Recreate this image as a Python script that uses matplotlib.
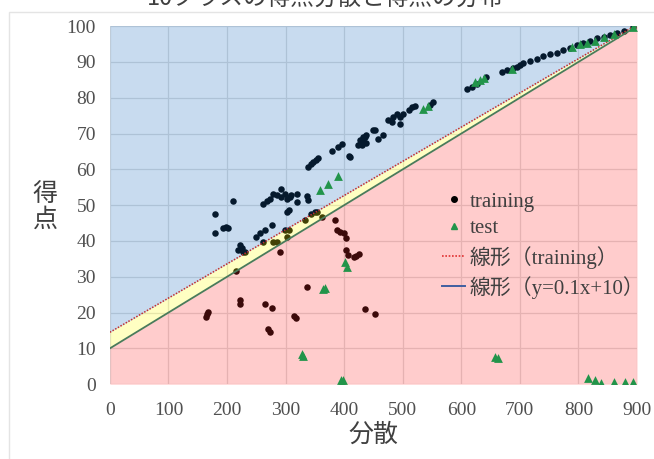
import numpy as np
import matplotlib.pyplot as plt
from matplotlib.lines import Line2D
from matplotlib.patches import Rectangle

# training points (分散, 得点)
train_x = [180, 210, 180, 193, 199, 201, 222, 225, 219, 228, 231, 216,
           250, 256, 265, 276, 262, 268, 273, 279, 285, 293, 293, 299,
           302, 307, 310, 319, 320, 336, 339, 302, 305, 279, 285, 262,
           299, 305, 302, 290, 333, 344, 350, 353, 362, 384, 387, 393,
           399, 404, 404, 407, 416, 421, 426,
           336, 165, 164, 168, 222, 222, 265, 276, 270, 273, 315, 318,
           435, 453,
           339, 343, 347, 352, 356, 379, 389, 397, 408, 427, 433, 438,
           438, 430, 453, 410, 427, 435, 433, 424, 450, 458, 467, 475,
           484, 481, 490, 495, 495, 501, 510, 515, 521, 552, 546,
           609, 618, 626, 643, 669, 678, 689, 695, 700, 706, 717, 729,
           740, 751, 763, 774, 786, 797, 808, 820, 831, 843, 854, 866,
           877, 894]
train_y = [47.4, 51.2, 42.1, 43.6, 43.9, 43.6, 38.8, 37.9, 37.4, 37.0, 37.0, 31.7,
           41.2, 42.1, 43.0, 44.4, 50.4, 51.2, 51.8, 53.2, 52.8, 54.4, 52.3, 53.2,
           51.8, 52.3, 52.8, 53.2, 50.9, 52.5, 51.4, 48.1, 48.6, 39.7, 39.7, 39.7,
           43.0, 43.0, 41.2, 37.0, 45.8, 47.6, 48.1, 48.1, 46.7, 45.8, 43.0, 42.5,
           42.1, 40.7, 37.6, 36.0, 35.4, 35.8, 36.3,
           27.2, 19.7, 18.8, 20.2, 23.6, 22.3, 22.5, 21.4, 15.5, 14.6, 19.0, 18.6,
           21.1, 19.7,
           60.7, 61.6, 62.1, 62.6, 63.1, 65.1, 66.3, 67.0, 63.7, 68.2, 69.1, 69.7,
           67.4, 66.8, 71.0, 63.5, 67.2, 69.1, 68.2, 66.8, 70.9, 68.6, 69.6, 73.7,
           74.7, 73.3, 75.6, 74.7, 72.8, 75.6, 76.5, 77.3, 77.7, 78.9, 78.0,
           82.5, 83.0, 83.8, 85.7, 87.2, 87.7, 88.2, 88.6, 89.1, 89.6, 90.3, 90.9,
           91.6, 92.2, 92.6, 93.3, 94.0, 94.7, 95.2, 95.9, 96.6, 97.1, 97.5, 98.1,
           98.7, 99.8]

# test points
test_x = [359, 373, 389, 401, 405, 364, 367, 330, 328, 394, 398,
          658, 663, 817, 828, 838, 860, 880, 894,
          535, 544, 624, 632, 638, 686, 789, 803, 814, 828, 843, 860, 894]
test_y = [54.2, 56.0, 58.1, 34.2, 32.6, 26.5, 27.0, 7.8, 8.3, 1.3, 1.1,
          7.6, 7.2, 1.6, 1.1, 0.2, 0.6, 0.6, 0.5,
          77.0, 77.7, 84.4, 84.9, 85.4, 87.9, 94.2, 95.0, 95.2, 95.9, 96.9, 97.8, 99.8]

# trend lines
fit_slope, fit_icpt = 0.0955, 14.5
ref_slope, ref_icpt = 0.1, 10

title = "10クラスの得点分散と得点の分布"
x_ticks = [0, 100, 200, 300, 400, 500, 600, 700, 800, 900]
y_ticks = [0, 10, 20, 30, 40, 50, 60, 70, 80, 90, 100]

serif = ['Liberation Serif', 'Noto Sans CJK JP']
cjk = ['Noto Sans CJK JP', 'DejaVu Sans']

fig = plt.figure(figsize=(6.54, 4.59), dpi=100)
ax = fig.add_axes([0.168, 0.163, 0.806, 0.780])

# faint chart-area border
fig.patches.append(Rectangle((9 / 654, -0.1), 1.2, 1 - 12 / 459 + 0.1,
                             transform=fig.transFigure, fill=False,
                             edgecolor='#e4e4e4', lw=1))

ax.set_xlim(0, 900)
ax.set_ylim(0, 100)

ax.scatter(train_x, train_y, s=22, color='black', zorder=1, linewidths=0)

xs = np.linspace(0, 900, 50)
upper = fit_slope * xs + fit_icpt
lower = ref_slope * xs + ref_icpt
ax.fill_between(xs, upper, 101, color='#196cc0', alpha=0.24, lw=0, zorder=2)
ax.fill_between(xs, lower, upper, color='#ffff14', alpha=0.26, lw=0, zorder=2)
ax.fill_between(xs, 0, lower, color='#ff2a2a', alpha=0.24, lw=0, zorder=2)

ax.plot(xs, upper, color='#c03030', lw=1.1, ls=(0, (1, 1)), zorder=3)
ax.plot(xs, lower, color='#4a7a5c', lw=1.3, zorder=3)

ax.scatter(test_x, test_y, s=40, marker='^', color='#22944a', zorder=4,
           linewidths=0)

ax.set_xticks(x_ticks)
ax.set_yticks(y_ticks)
ax.grid(True, color='#dedede', lw=0.9, zorder=0)
ax.set_axisbelow(True)
for s in ax.spines.values():
    s.set_visible(False)
ax.tick_params(length=0, labelsize=14, labelcolor='#505050')
ax.tick_params(axis='x', pad=13)
ax.tick_params(axis='y', pad=10)
for lab in ax.get_xticklabels() + ax.get_yticklabels():
    lab.set_family(serif)

ax.set_xlabel('分散', family=cjk, fontsize=18, color='#404040', labelpad=2)
fig.text(45 / 654, 1 - 207 / 459, '得\n点', family=cjk, fontsize=18,
         color='#404040', ha='center', va='center', linespacing=1.0)

fig.text(0.497, 1 - 10 / 459, title, family=cjk, fontsize=17,
         color='#404040', ha='center', va='bottom')

handles = [
    Line2D([], [], ls='none', marker='o', color='black', markersize=4),
    Line2D([], [], ls='none', marker='^', color='#22944a', markersize=5),
    Line2D([], [], color='#e03030', lw=1.2, ls=(0, (1, 1))),
    Line2D([], [], color='#3f5fa0', lw=1.4),
]
labels = ['training', 'test', '線形（training）', '線形（y=0.1x+10）']
leg = ax.legend(handles, labels, loc='upper left', bbox_to_anchor=(0.615, 0.56),
                frameon=False, prop={'family': serif, 'size': 15},
                handlelength=1.1, handletextpad=0.2, labelspacing=0.35,
                borderaxespad=0)
for t in leg.get_texts():
    t.set_color('#404040')

fig.savefig('out.png', dpi=100)
